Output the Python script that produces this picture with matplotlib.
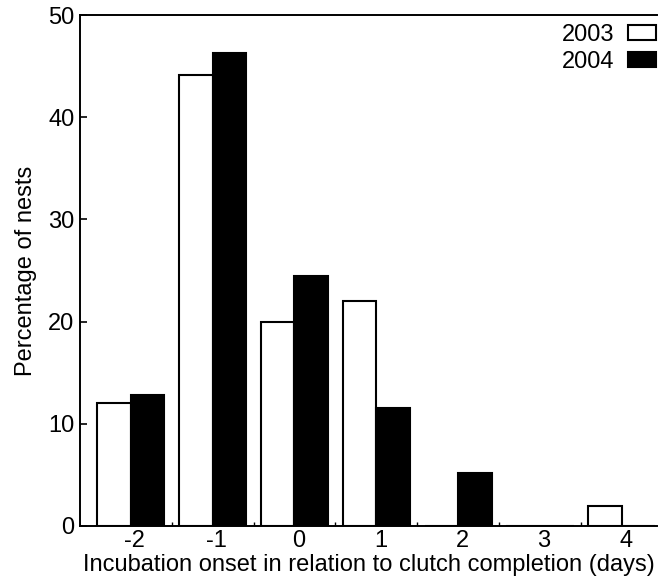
import numpy as np
from matplotlib import pyplot as plt

plt.rcParams['font.family'] = ['Liberation Sans', 'DejaVu Sans']

# dias de inicio da incubacao em relacao ao fim da postura
dias = [-2, -1, 0, 1, 2, 3, 4]
ninhos2003 = [12.0, 44.1, 20.0, 22.0, 0.0, 0.0, 2.0]
ninhos2004 = [12.8, 46.3, 24.5, 11.5, 5.2, 0.0, 0.0]

largura = 0.41
x = np.array(dias, dtype=float)

fig = plt.figure(figsize=(6.59, 5.84), dpi=100)
ax = fig.add_axes([80/659, 1 - 526/584, 577/659, 511/584])

ax.bar(x - largura/2, ninhos2003, largura, color='white', edgecolor='black', linewidth=1.5, label='2003')
ax.bar(x + largura/2, ninhos2004, largura, color='black', edgecolor='black', linewidth=1.5, label='2004')

ax.set_xlim(-2.62, 4.43)
ax.set_ylim(0, 50)

ax.spines['right'].set_visible(False)
for s in ['left', 'bottom', 'top']:
    ax.spines[s].set_linewidth(1.4)

ax.set_yticks([0, 10, 20, 30, 40, 50])
ax.tick_params(axis='y', direction='in', length=5, width=1.2, labelsize=17, pad=4)

# rotulos um pouco deslocados para a direita como no original
ax.set_xticks(x + 0.05)
ax.set_xticklabels([str(d) for d in dias])
ax.set_xticks(x[:-1] + 0.5, minor=True)
ax.tick_params(axis='x', which='major', length=0, labelsize=17, pad=3)
ax.tick_params(axis='x', which='minor', direction='in', length=3, width=1)

ax.set_xlabel('Incubation onset in relation to clutch completion (days)', fontsize=17, labelpad=1)
ax.set_ylabel('Percentage of nests', fontsize=17, labelpad=8)

fig.legend(loc='upper right', bbox_to_anchor=(656/659, 1 - 24/584), frameon=False,
           markerfirst=False, fontsize=17, handlelength=1.2, handleheight=0.6,
           handletextpad=0.55, labelspacing=0.2, borderpad=0, borderaxespad=0)

plt.savefig('out.png', dpi=100)
